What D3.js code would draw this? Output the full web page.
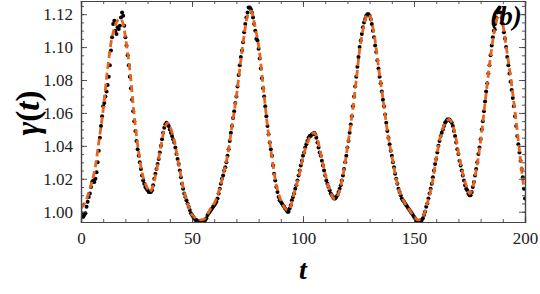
<!DOCTYPE html>
<html><head><meta charset="utf-8">
<script src="https://cdn.jsdelivr.net/npm/d3@7"></script>
<style>html,body{margin:0;padding:0;background:#fff;}svg{display:block;}</style>
</head><body>
<svg id="chart" width="540" height="294"></svg>
<script>
// ---- data ----
const xTicks = [0, 50, 100, 150, 200];
const yTicks = [1.00, 1.02, 1.04, 1.06, 1.08, 1.10, 1.12];
const yTickLabels = ["1.00", "1.02", "1.04", "1.06", "1.08", "1.10", "1.12"];
const panelLabel = "(b)";

// measured points: t = 0, 0.5, 1, ... 200
const dotStep = 0.5;
const dotGamma = [
 0.999,0.997,0.997,0.998,0.999,1.003,1.006,1.009,1.011,1.015,
 1.018,1.019,1.018,1.020,1.024,1.030,1.037,1.045,1.052,1.058,
 1.064,1.066,1.070,1.073,1.077,1.082,1.089,1.098,1.106,1.114,
 1.116,1.110,1.108,1.112,1.111,1.113,1.118,1.121,1.119,1.113,
 1.106,1.101,1.095,1.089,1.082,1.075,1.068,1.061,1.055,1.049,
 1.043,1.038,1.034,1.030,1.026,1.022,1.019,1.017,1.015,1.014,
 1.013,1.012,1.012,1.012,1.013,1.016,1.020,1.023,1.026,1.029,
 1.032,1.036,1.040,1.044,1.048,1.051,1.053,1.054,1.053,1.052,
 1.050,1.048,1.046,1.044,1.042,1.039,1.035,1.032,1.029,1.025,
 1.021,1.017,1.014,1.011,1.009,1.007,1.005,1.003,1.001,0.999,
 0.998,0.997,0.996,0.995,0.995,0.994,0.994,0.994,0.994,0.994,
 0.994,0.995,0.995,0.996,0.998,0.999,1.000,1.001,1.002,1.003,
 1.004,1.005,1.006,1.008,1.011,1.014,1.017,1.020,1.022,1.025,
 1.027,1.030,1.034,1.038,1.043,1.048,1.052,1.057,1.061,1.066,
 1.070,1.076,1.083,1.089,1.094,1.098,1.103,1.109,1.114,1.118,
 1.121,1.124,1.124,1.123,1.121,1.118,1.114,1.110,1.105,1.104,
 1.099,1.093,1.087,1.081,1.075,1.070,1.064,1.058,1.052,1.047,
 1.042,1.038,1.034,1.028,1.023,1.019,1.015,1.012,1.009,1.007,
 1.006,1.005,1.004,1.003,1.002,1.001,1.000,1.000,1.002,1.004,
 1.007,1.009,1.011,1.014,1.016,1.019,1.022,1.025,1.028,1.031,
 1.034,1.036,1.039,1.041,1.043,1.045,1.046,1.046,1.047,1.047,
 1.048,1.047,1.045,1.042,1.039,1.036,1.034,1.031,1.028,1.025,
 1.022,1.019,1.017,1.015,1.013,1.011,1.010,1.009,1.008,1.008,
 1.009,1.010,1.012,1.014,1.016,1.019,1.022,1.026,1.030,1.034,
 1.039,1.043,1.048,1.053,1.058,1.064,1.070,1.076,1.082,1.088,
 1.094,1.100,1.104,1.108,1.112,1.115,1.117,1.119,1.120,1.120,
 1.119,1.117,1.114,1.110,1.106,1.101,1.097,1.092,1.087,1.082,
 1.078,1.073,1.068,1.064,1.059,1.054,1.049,1.045,1.041,1.037,
 1.034,1.030,1.027,1.023,1.020,1.017,1.014,1.012,1.010,1.008,
 1.007,1.006,1.005,1.004,1.003,1.002,1.001,1.000,0.999,0.998,
 0.997,0.996,0.995,0.994,0.994,0.994,0.994,0.995,0.996,0.998,
 1.000,1.003,1.005,1.008,1.011,1.014,1.017,1.021,1.025,1.029,
 1.032,1.036,1.040,1.043,1.046,1.048,1.050,1.052,1.054,1.055,
 1.056,1.056,1.056,1.055,1.054,1.052,1.049,1.046,1.042,1.038,
 1.035,1.031,1.028,1.025,1.022,1.019,1.016,1.014,1.013,1.011,
 1.010,1.010,1.012,1.015,1.018,1.022,1.026,1.030,1.035,1.039,
 1.044,1.050,1.055,1.061,1.067,1.073,1.078,1.084,1.089,1.095,
 1.101,1.106,1.110,1.114,1.118,1.121,1.123,1.124,1.121,1.118,
 1.114,1.109,1.105,1.100,1.094,1.089,1.084,1.079,1.074,1.069,
 1.064,1.058,1.052,1.046,1.041,1.036,1.031,1.026,1.021,1.014,
 1.008
];

// fitted curve
const fitT = [0,2,4,6,8,10,12,14,16,17,18,19,20,22,24,26,28,30,31,32,34,36,38,39,40,42,44,46,48,50,52,54,56,58,60,62,64,66,68,70,72,74,75,76,77,78,80,82,84,86,88,90,92,93,94,96,98,100,102,104,105,106,108,110,112,114,115,116,118,120,122,124,126,128,129,130,132,134,136,138,140,142,144,146,148,150,152,154,156,158,160,162,164,166,168,170,172,174,175,176,178,180,182,184,186,188,189,190,192,194,196,198,199.5];
const fitGamma = [1.002,1.006,1.014,1.024,1.042,1.062,1.087,1.106,1.115,1.117,1.117,1.114,1.106,1.086,1.058,1.036,1.021,1.014,1.012,1.014,1.025,1.040,1.052,1.054,1.052,1.043,1.029,1.015,1.005,0.998,0.996,0.995,0.996,1.001,1.005,1.012,1.022,1.034,1.052,1.070,1.092,1.112,1.119,1.122,1.121,1.115,1.101,1.077,1.052,1.033,1.016,1.007,1.002,1.001,1.002,1.011,1.021,1.033,1.042,1.047,1.048,1.046,1.035,1.023,1.013,1.008,1.008,1.011,1.022,1.039,1.058,1.080,1.103,1.116,1.120,1.119,1.108,1.088,1.069,1.049,1.034,1.020,1.010,1.005,1.001,0.997,0.995,0.997,1.005,1.016,1.032,1.046,1.054,1.056,1.050,1.036,1.023,1.014,1.011,1.013,1.025,1.043,1.066,1.089,1.108,1.119,1.120,1.114,1.096,1.077,1.055,1.031,1.014];

// ---- layout ----
const pL = 81, pR = 525, pT = 1, pB = 222;
const svg = d3.select("#chart");
const x = d3.scaleLinear().domain([0, 200]).range([pL, pR]);
const y = d3.scaleLinear().domain([0.99375, 1.128]).range([pB, pT]);

const serif = "'Liberation Serif','Times New Roman',serif";
const axisCol = "#444";

svg.append("clipPath").attr("id", "clip").append("rect")
  .attr("x", pL).attr("y", pT).attr("width", pR - pL).attr("height", pB - pT);
const inner = svg.append("g").attr("clip-path", "url(#clip)");

const line = d3.line().x(d => x(d[0])).y(d => y(d[1])).curve(d3.curveCatmullRom.alpha(0.5));
const fitData = fitT.map((t, i) => [t, fitGamma[i]]);

inner.selectAll("circle.pt").data(dotGamma).enter().append("circle")
  .attr("class", "pt")
  .attr("cx", (d, i) => x(i * dotStep))
  .attr("cy", d => y(d))
  .attr("r", 2.0)
  .attr("fill", "#000");

inner.append("path").datum(fitData)
  .attr("d", line)
  .attr("fill", "none")
  .attr("stroke", "#e8641e")
  .attr("stroke-width", 2.8)
  .attr("stroke-dasharray", "7,4");

const xMinor = d3.range(0, 201, 10);
const yMinor = d3.range(0, 27).map(i => 1.0 + i * 0.005).filter(v => v <= 1.128);

svg.append("g").attr("transform", `translate(0,${pB})`)
  .call(d3.axisBottom(x).tickValues(xTicks).tickFormat(d => d).tickSize(-6).tickPadding(10));
svg.append("g").attr("transform", `translate(0,${pT})`)
  .call(d3.axisTop(x).tickValues(xTicks).tickFormat("").tickSize(-6));
svg.append("g").attr("transform", `translate(${pL},0)`)
  .call(d3.axisLeft(y).tickValues(yTicks).tickFormat((d, i) => yTickLabels[i]).tickSize(-6).tickPadding(8));
svg.append("g").attr("transform", `translate(${pR},0)`)
  .call(d3.axisRight(y).tickValues(yTicks).tickFormat("").tickSize(-6));

svg.append("g").attr("transform", `translate(0,${pB})`).call(d3.axisBottom(x).tickValues(xMinor).tickFormat("").tickSize(-3));
svg.append("g").attr("transform", `translate(0,${pT})`).call(d3.axisTop(x).tickValues(xMinor).tickFormat("").tickSize(-3));
svg.append("g").attr("transform", `translate(${pL},0)`).call(d3.axisLeft(y).tickValues(yMinor).tickFormat("").tickSize(-3));
svg.append("g").attr("transform", `translate(${pR},0)`).call(d3.axisRight(y).tickValues(yMinor).tickFormat("").tickSize(-3));

svg.selectAll(".domain").attr("stroke", axisCol).attr("stroke-width", 1.2);
svg.selectAll(".tick line").attr("stroke", axisCol).attr("stroke-width", 0.9);
svg.selectAll(".tick text").attr("font-family", serif).attr("font-size", 17).attr("fill", "#222");

svg.append("text")
  .attr("x", x(100)).attr("y", 279)
  .attr("text-anchor", "middle")
  .attr("font-family", serif).attr("font-size", 28)
  .attr("font-style", "italic").attr("font-weight", "bold")
  .text("t");

svg.append("text")
  .attr("transform", `translate(39,${y(1.06)}) rotate(-90)`)
  .attr("text-anchor", "middle")
  .attr("font-family", serif).attr("font-size", 33)
  .attr("font-weight", "bold")
  .call(t => {
    t.append("tspan").attr("font-style", "italic").text("γ");
    t.append("tspan").text("(");
    t.append("tspan").attr("font-style", "italic").text("t");
    t.append("tspan").text(")");
  });

svg.append("text")
  .attr("x", 506).attr("y", 25)
  .attr("text-anchor", "middle")
  .attr("font-family", serif).attr("font-size", 27)
  .attr("font-style", "italic").attr("font-weight", "bold")
  .text(panelLabel);
</script>
</body></html>
